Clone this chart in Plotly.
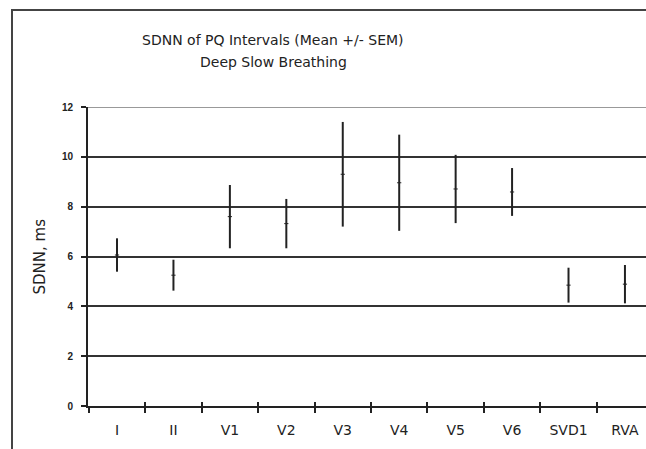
import plotly.graph_objects as go

categories = ["I", "II", "V1", "V2", "V3", "V4", "V5", "V6", "SVD1", "RVA"]
means = [6.06, 5.25, 7.60, 7.32, 9.30, 8.96, 8.71, 8.59, 4.85, 4.89]
sems = [0.67, 0.62, 1.27, 0.99, 2.10, 1.93, 1.37, 0.96, 0.70, 0.77]
y_ticks = [0, 2, 4, 6, 8, 10, 12]

title_lines = ["SDNN of PQ Intervals (Mean +/- SEM)", "Deep Slow Breathing"]
y_title = "SDNN, ms"

FONT = "DejaVu Sans, Liberation Sans, Arial, sans-serif"
INK = "#222222"

fig = go.Figure()
fig.add_trace(go.Scatter(
    x=categories, y=means, mode="markers",
    marker=dict(symbol="line-ew", size=3, line=dict(width=1, color=INK), color=INK),
    error_y=dict(type="data", array=sems, visible=True, width=0, thickness=2, color=INK),
    showlegend=False, hoverinfo="skip",
))
# invisible trace for the overlay axis carrying inside ticks
fig.add_trace(go.Scatter(x=categories, y=means, xaxis="x2", mode="none",
                         showlegend=False, hoverinfo="skip"))

xr = [-0.514, 9.373]
fig.update_layout(
    width=646, height=449,
    margin=dict(l=88, r=0, t=107, b=43),
    paper_bgcolor="white", plot_bgcolor="white",
    font=dict(family=FONT, color=INK),
    xaxis=dict(
        type="category", categoryorder="array", categoryarray=categories,
        range=xr, tickson="boundaries", ticks="outside", ticklen=5, tickwidth=1.5,
        tickcolor=INK, showline=True, linecolor=INK, linewidth=2, showgrid=False,
        zeroline=False, tickfont=dict(size=14, family=FONT, color=INK),
        ticklabelstandoff=10,
    ),
    xaxis2=dict(
        type="category", categoryorder="array", categoryarray=categories,
        range=xr, overlaying="x", anchor="y", side="bottom", tickson="boundaries",
        ticks="inside", ticklen=4, tickwidth=1.5, tickcolor=INK, showline=False,
        showgrid=False, showticklabels=False, zeroline=False,
    ),
    yaxis=dict(
        range=[0, 12], tickvals=y_ticks, ticks="outside", ticklen=5, tickwidth=1.5,
        tickcolor=INK, showline=True, linecolor=INK, linewidth=2,
        showgrid=True, gridcolor="#333333", gridwidth=2, zeroline=False,
        tickfont=dict(size=10, family="Liberation Sans, Arial, sans-serif", color=INK, weight="bold"),
        ticklabelstandoff=6,
    ),
    shapes=[
        dict(type="line", xref="paper", yref="y", x0=0, x1=1, y0=12, y1=12,
             line=dict(color="#999999", width=2)),
        dict(type="rect", xref="paper", yref="paper", x0=(12 - 88) / 558, x1=2,
             y0=-0.5, y1=1 + (107 - 10) / 299, line=dict(color="#444444", width=2),
             fillcolor="rgba(0,0,0,0)", layer="below"),
    ],
    annotations=[
        dict(text=title_lines[0], xref="paper", yref="paper", x=(273 - 88) / 558,
             y=1 + (107 - 39.5) / 299, xanchor="center", yanchor="middle",
             showarrow=False, font=dict(size=14, family=FONT, color=INK)),
        dict(text=title_lines[1], xref="paper", yref="paper", x=(273 - 88) / 558,
             y=1 + (107 - 61.5) / 299, xanchor="center", yanchor="middle",
             showarrow=False, font=dict(size=14, family=FONT, color=INK)),
        dict(text=y_title, xref="paper", yref="paper", x=(39 - 88) / 558, y=0.5,
             xanchor="center", yanchor="middle", textangle=-90, showarrow=False,
             font=dict(size=15, family=FONT, color=INK)),
    ],
)

fig.write_html("out.html")
